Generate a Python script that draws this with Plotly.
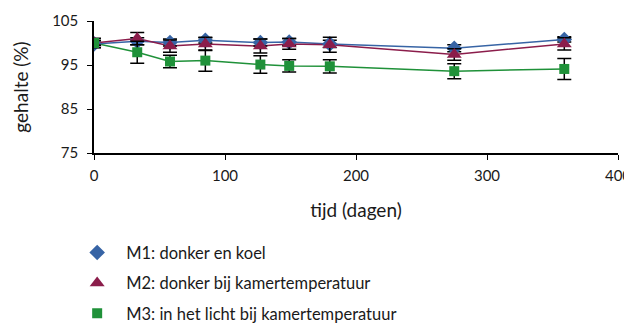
import plotly.graph_objects as go

days = [0, 33, 58, 85, 127, 149, 180, 275, 359]
m1 = [99.8, 100.4, 100.1, 100.6, 100.1, 100.2, 99.8, 98.8, 100.8]
m1_err = [0.8, 0.8, 0.8, 0.6, 0.8, 0.8, 0.8, 0.8, 0.6]
m2 = [100.0, 101.0, 99.3, 99.8, 99.3, 99.8, 99.6, 97.4, 99.8]
m2_err = [1.1, 1.4, 1.4, 1.5, 1.6, 1.2, 1.7, 1.3, 1.4]
m3 = [100.0, 97.9, 95.8, 96.0, 95.1, 94.8, 94.7, 93.6, 94.1]
m3_err = [0.5, 2.5, 1.4, 2.4, 2.0, 1.4, 1.5, 1.7, 2.4]

names = ["M1: donker en koel", "M2: donker bij kamertemperatuur",
         "M3: in het licht bij kamertemperatuur"]
colors = ["#3764a5", "#8b1d4b", "#1f9139"]
symbols = ["diamond", "triangle-up", "square"]
sizes = [12, 13, 10]
series = [(m1, m1_err), (m2, m2_err), (m3, m3_err)]

FONT = "Lato"
fig = go.Figure()
for (vals, errs), c in zip(series, colors):
    fig.add_trace(go.Scatter(x=days, y=vals, mode="lines",
                             line=dict(color=c, width=1.5),
                             showlegend=False, hoverinfo="skip"))
for i, ((vals, errs), c) in enumerate(zip(series, colors)):
    fig.add_trace(go.Scatter(
        x=days, y=vals, mode="markers", name=names[i],
        legendgroup=str(i),
        marker=dict(color=c, symbol=symbols[i], size=sizes[i]),
        error_y=dict(type="data", array=errs, color="black",
                     thickness=1.5, width=7)))

fig.update_layout(
    width=624, height=317,
    margin=dict(l=86, r=14, t=13, b=172, autoexpand=False),
    paper_bgcolor="white", plot_bgcolor="white",
    font=dict(family=FONT, size=16, color="#1a1a1a"),
    legend=dict(x=-0.0493, y=-1.35, xanchor="left", yanchor="bottom",
                tracegroupgap=6, itemwidth=48, font=dict(size=16.5)),
    xaxis=dict(range=[0, 400], dtick=100, tick0=0, showline=True,
               linecolor="black", linewidth=1.5, ticks="outside",
               ticklen=5, tickcolor="black", showgrid=False, zeroline=False,
               automargin=False, ticklabelstandoff=3,
               ticklabeloverflow="allow", tickfont=dict(size=15),
               title=dict(text="tijd (dagen)", standoff=21)),
    yaxis=dict(range=[75, 105], tickvals=[75, 85, 95, 105], showline=True,
               linecolor="black", linewidth=1.5, ticks="outside",
               ticklen=5, tickcolor="black", showgrid=False, zeroline=False,
               automargin=False, ticklabelstandoff=6, tickfont=dict(size=15),
               title=dict(text="gehalte (%)", standoff=18)),
)
fig.write_html("out.html")
